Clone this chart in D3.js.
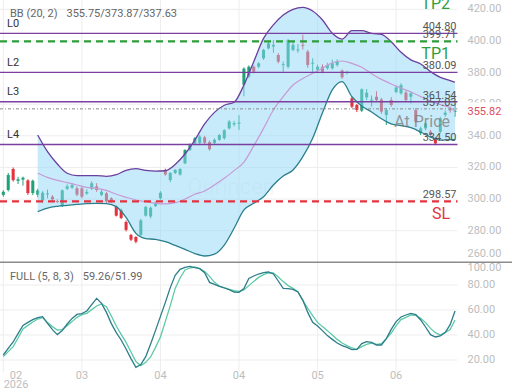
<!DOCTYPE html>
<html>
<head>
<meta charset="utf-8">
<script src="https://cdn.jsdelivr.net/npm/d3@7"></script>
<style>
  body { margin: 0; background: #fff; }
  svg { display: block; font-family: Roboto, "Noto Sans", sans-serif; }
</style>
</head>
<body>
<div id="chart"></div>
<script>
// candles (one per session)
const opens = [302.6,305.7,319.0,311.5,312.3,311.8,303.8,302.8,299.0,303.0,
  301.5,298.8,295.5,306.5,307.2,306.8,306.8,303.5,306.4,308.0,
  302.6,303.6,300.4,295.2,293.0,285.5,277.3,276.0,277.3,289.5,
  289.0,295.5,300.5,318.4,312.0,316.5,315.5,322.6,331.0,335.2,
  335.5,339.0,336.0,335.5,337.5,338.5,344.7,347.2,347.6,372.3,
  377.5,383.7,383.7,389.0,395.3,396.5,391.1,384.7,383.7,394.3,
  394.0,397.5,393.2,385.6,381.8,383.7,382.7,382.7,384.8,381.2,
  379.8,363.7,359.5,355.9,364.3,362.3,364.7,363.0,353.2,362.6,
  367.7,366.9,367.3,364.7,356.3,341.6,344.7,342.6,338.4,342.6,
  353.2,356.8,355.5];
const closes = [304.6,315.2,312.0,312.5,313.5,303.8,311.6,305.5,304.0,303.6,
  299.8,298.3,305.5,308.0,308.8,302.8,301.5,304.5,310.0,305.8,
  304.6,298.5,298.3,289.5,288.0,280.5,274.3,273.0,286.5,295.0,
  294.5,297.7,304.0,315.5,316.5,318.4,319.0,331.0,334.0,338.4,
  339.5,335.6,331.5,337.5,340.5,343.5,349.0,348.0,348.3,382.5,
  383.7,380.5,385.8,394.3,398.5,397.5,386.9,385.3,400.5,397.5,
  394.6,397.0,384.8,386.2,383.7,380.5,384.8,385.8,386.9,377.0,
  380.4,358.4,356.3,369.4,367.3,362.9,362.6,355.3,356.3,359.5,
  370.6,372.1,362.6,366.9,348.9,344.7,347.9,340.5,335.2,351.0,
  354.6,356.0,355.82];
const highs = [305.5,316.5,320.0,314.0,314.2,312.5,312.3,306.5,305.0,306.0,
  302.5,299.8,306.0,309.3,310.2,308.0,308.0,306.2,311.2,310.0,
  305.8,304.6,301.2,296.0,294.0,286.5,278.0,276.5,287.5,295.8,
  295.2,298.4,305.0,319.2,317.0,319.0,319.5,331.5,335.2,339.2,
  340.5,340.0,337.0,338.4,341.2,344.2,350.0,349.5,353.0,383.3,
  384.5,384.5,386.5,395.0,400.2,400.5,392.2,387.0,401.2,399.6,
  398.0,404.0,394.3,389.0,385.0,385.2,386.2,388.2,388.4,382.0,
  381.2,364.6,360.2,370.0,369.6,365.5,368.2,364.0,357.5,364.5,
  371.8,373.3,368.5,368.0,357.5,345.8,349.0,343.7,339.4,352.0,
  356.0,358.5,360.0];
const lows = [301.5,304.8,311.0,309.5,308.5,302.6,302.5,301.2,297.5,300.5,
  298.5,297.5,295.0,305.7,306.5,301.8,300.5,302.6,305.7,304.6,
  301.8,297.3,297.5,289.0,287.3,279.5,273.5,272.0,276.2,288.9,
  287.8,295.0,299.6,314.8,310.6,315.8,314.8,322.0,330.4,334.6,
  334.6,334.8,330.6,334.6,336.8,337.5,344.0,346.0,343.7,365.0,
  376.5,379.5,382.8,388.0,394.6,392.5,385.8,380.5,382.6,393.5,
  392.5,394.6,383.0,380.0,380.5,379.5,381.8,381.8,383.7,376.0,
  378.8,357.5,355.0,355.0,362.5,358.5,361.5,354.0,346.8,358.4,
  366.9,366.0,361.5,360.5,348.0,340.5,343.5,339.5,334.0,341.5,
  352.0,354.5,352.0];

// Bollinger bands (20, 2), read at every second session
const bbIdx = [7,9,11,13,15,17,19,21,23,25,27,29,31,33,35,37,39,41,43,45,47,49,
  51,53,55,57,59,61,63,65,67,69,71,73,75,77,79,81,83,85,87,89,91,92];
const bbUpper = [340.5,330.0,322.2,316.3,314.8,314.8,314.8,314.4,315.4,318.2,319.2,318.2,
  317.7,317.9,321.9,328.5,337.3,347.5,354.8,359.3,361.2,372.1,386.9,401.6,410.1,416.4,
  420.0,421.2,418.9,413.2,404.8,401.2,406.5,406.5,404.8,404.2,399.5,392.8,388.0,385.4,
  380.6,377.0,374.9,373.87];
const bbMid = [316.3,313.7,311.8,310.4,308.9,307.4,306.8,305.5,303.0,301.1,299.4,298.3,
  297.3,296.9,297.7,300.0,303.0,305.1,308.9,313.1,318.0,323.4,333.6,344.7,356.3,364.7,
  372.1,376.3,379.5,382.7,386.2,387.3,385.8,383.3,379.3,375.7,372.8,370.2,367.7,364.8,
  362.0,359.7,357.8,355.75];
const bbLower = [292.0,294.3,295.4,296.0,296.6,297.1,297.3,297.1,295.2,288.4,278.3,275.0,
  274.5,273.0,270.7,268.2,265.5,264.0,265.2,270.9,281.5,293.1,297.3,301.5,308.9,314.6,
  318.4,326.8,338.4,354.6,369.0,374.2,364.7,358.9,355.1,350.8,347.5,346.4,345.1,342.4,
  339.2,337.3,337.6,337.63];

// Full stochastic (5, 8, 3)
const stochK = [24.0,29.3,34.4,41.1,47.7,50.1,52.3,53.9,54.7,49.3,
  44.3,40.3,43.5,48.8,53.3,56.5,57.1,59.2,64.3,69.3,
  65.3,58.1,49.1,41.9,36.0,28.8,21.1,14.1,16.3,22.7,
  32.8,43.7,54.9,66.1,77.9,87.7,92.5,94.1,94.9,93.9,
  93.1,89.9,82.1,80.5,78.9,77.6,76.3,74.4,74.1,77.1,
  85.3,87.2,88.8,89.9,90.4,88.8,83.2,77.3,77.1,76.5,
  74.4,67.7,58.1,50.1,47.2,43.5,39.5,36.5,33.6,31.5,
  30.1,28.3,28.5,33.1,34.7,34.1,32.0,32.0,37.1,44.5,
  50.7,54.4,56.0,57.3,56.3,52.0,46.4,40.3,38.4,39.2,
  41.9,48.3,59.26];
const stochD = [22.7,26.7,30.7,37.6,44.8,47.7,50.4,52.8,53.9,49.9,
  46.7,44.0,44.3,47.5,50.7,54.1,56.3,57.3,60.3,63.2,
  64.8,62.7,55.2,47.2,40.5,34.1,26.4,18.7,15.5,18.1,
  22.4,30.1,38.4,50.9,63.5,77.3,85.6,92.0,93.6,94.4,
  93.1,90.7,86.9,82.1,79.2,77.9,76.5,75.5,74.9,76.0,
  79.5,82.9,86.1,88.3,89.6,89.6,86.4,82.7,79.5,77.3,
  74.4,67.7,61.3,55.5,50.1,46.7,43.5,40.0,36.5,33.6,
  31.5,29.6,28.5,30.7,32.5,33.6,32.5,33.1,37.1,41.6,
  47.5,52.3,54.1,56.0,55.7,53.3,49.9,45.3,41.9,40.0,
  42.1,44.3,51.99];

// horizontal levels
const levelNames = ["TP2", "L0", "TP1", "L2", "L3", "At Price", "L4", "SL"];
const levelValues = [431.3, 404.80, 399.71, 380.09, 361.54, 357.03, 334.50, 298.57];

// axes
const priceTicks = [260, 280, 300, 320, 340, 360, 380, 400, 420];
const stochTicks = [20, 40, 60, 80, 100];
const timeTickIdx = [0, 16, 32, 48, 64, 80];
const timeTickLabels = ["02", "03", "04", "04", "05", "06"];
const lastPrice = 355.82;

const W = 520, H = 390;
const plotR = 457.5;
const mainBottom = 262.3;

const upColor = "#1fa27a", downColor = "#e5323f";
const purple = "#7b3fa0";

const svg = d3.select("#chart").append("svg")
    .attr("width", W)
    .attr("height", H);

const defs = svg.append("defs");
defs.append("clipPath").attr("id", "clipMain")
    .append("rect").attr("x", 0).attr("y", 0).attr("width", plotR).attr("height", mainBottom);
defs.append("clipPath").attr("id", "clipStoch")
    .append("rect").attr("x", 0).attr("y", mainBottom + 1).attr("width", plotR).attr("height", 110);

const x = d3.scaleBand()
    .domain(d3.range(closes.length))
    .range([0.875, plotR]);
const cx = i => x(i) + x.bandwidth() / 2;
const bodyW = x.bandwidth() * 0.62;

const y = d3.scaleLinear().domain([260, 420]).range([mainBottom, 9.3]);
const ys = d3.scaleLinear().domain([0, 100]).range([385, 260]);

// grid
const grid = svg.append("g");
grid.selectAll("line.hg").data(priceTicks).join("line")
    .attr("x1", 0).attr("x2", plotR)
    .attr("y1", d => y(d)).attr("y2", d => y(d))
    .attr("stroke", "#ededed");
grid.selectAll("line.sg").data(stochTicks.slice(0, 4)).join("line")
    .attr("x1", 0).attr("x2", plotR)
    .attr("y1", d => ys(d)).attr("y2", d => ys(d))
    .attr("stroke", "#ededed");
grid.selectAll("line.vg").data(timeTickIdx).join("line")
    .attr("x1", d => cx(d)).attr("x2", d => cx(d))
    .attr("y1", 0).attr("y2", 372)
    .attr("stroke", "#ededed");

// watermark
svg.append("text")
    .attr("x", 231).attr("y", 194)
    .attr("text-anchor", "middle")
    .attr("font-size", 22)
    .attr("fill", "#000").attr("fill-opacity", 0.05)
    .text("Qurincen");

const gMain = svg.append("g").attr("clip-path", "url(#clipMain)");

// candles
const candles = d3.range(closes.length).map(i => ({
    i: i, o: opens[i], h: highs[i], l: lows[i], c: closes[i]
}));
const col = d => d.c >= d.o ? upColor : downColor;

gMain.append("g").selectAll("line").data(candles).join("line")
    .attr("x1", d => cx(d.i)).attr("x2", d => cx(d.i))
    .attr("y1", d => y(d.h)).attr("y2", d => y(d.l))
    .attr("stroke", col).attr("stroke-width", 1);
gMain.append("g").selectAll("rect").data(candles).join("rect")
    .attr("x", d => cx(d.i) - bodyW / 2)
    .attr("width", bodyW)
    .attr("y", d => y(Math.max(d.o, d.c)))
    .attr("height", d => Math.max(1, Math.abs(y(d.o) - y(d.c))))
    .attr("fill", col);

// bollinger bands, fill drawn over candles
const bb = bbIdx.map((i, k) => ({i: i, u: bbUpper[k], m: bbMid[k], l: bbLower[k]}));
gMain.append("path").datum(bb)
    .attr("d", d3.area().x(d => cx(d.i)).y0(d => y(d.l)).y1(d => y(d.u)).curve(d3.curveMonotoneX))
    .attr("fill", "#8fd8f8").attr("fill-opacity", 0.5);

const bbLine = key => d3.line().x(d => cx(d.i)).y(d => y(d[key])).curve(d3.curveMonotoneX);
gMain.append("path").datum(bb).attr("d", bbLine("m"))
    .attr("fill", "none").attr("stroke", "#c79ad6").attr("stroke-width", 1.2);
gMain.append("path").datum(bb).attr("d", bbLine("u"))
    .attr("fill", "none").attr("stroke", "#6a3f9e").attr("stroke-width", 1.3);
gMain.append("path").datum(bb).attr("d", bbLine("l"))
    .attr("fill", "none").attr("stroke", "#2b7f8c").attr("stroke-width", 1.3);

// levels
const levels = levelNames.map((n, k) => ({name: n, v: levelValues[k]}));
const lvlStroke = d => d.name.startsWith("TP") ? "#2e9e3c" : d.name === "SL" ? "#e5323f" :
    d.name === "At Price" ? "#8a8a8a" : purple;
const lvlDash = d => d.name.startsWith("TP") || d.name === "SL" ? "7,5" :
    d.name === "At Price" ? "3,2,1,2" : null;
const lvlWidth = d => d.name.startsWith("TP") || d.name === "SL" ? 2.2 :
    d.name === "At Price" ? 1 : 1.3;

svg.append("g").selectAll("line").data(levels).join("line")
    .attr("x1", 0).attr("x2", plotR)
    .attr("y1", d => y(d.v)).attr("y2", d => y(d.v))
    .attr("stroke", lvlStroke)
    .attr("stroke-width", lvlWidth)
    .attr("stroke-dasharray", lvlDash);

// value labels right aligned above each line
svg.append("g").selectAll("text").data(levels.filter(d => d.name !== "TP2")).join("text")
    .attr("x", plotR - 1).attr("y", d => y(d.v) - 3)
    .attr("text-anchor", "end")
    .attr("font-size", 11).attr("fill", "#555")
    .text(d => d.v.toFixed(2));

// L names on the left
svg.append("g").selectAll("text").data(levels.filter(d => d.name.startsWith("L"))).join("text")
    .attr("x", 7).attr("y", d => y(d.v) - 6.5)
    .attr("font-size", 11).attr("fill", "#333")
    .text(d => d.name);

// big names on the right, below line
svg.append("g").selectAll("text").data(levels.filter(d => !d.name.startsWith("L"))).join("text")
    .attr("x", 450).attr("y", d => y(d.v) + 18)
    .attr("text-anchor", "end")
    .attr("font-size", 16)
    .attr("fill", d => d.name.startsWith("TP") ? "#2e9e3c" : d.name === "SL" ? "#e5323f" : "#808080")
    .attr("fill-opacity", d => d.name === "At Price" ? 0.8 : 1)
    .text(d => d.name);

// price axis
const yAxis = svg.append("g")
    .attr("transform", `translate(${plotR + 5},0)`)
    .call(d3.axisRight(y).tickValues(priceTicks).tickSize(0).tickPadding(5).tickFormat(d3.format(".2f")));
yAxis.select(".domain").remove();
yAxis.selectAll("text")
    .attr("font-family", "Roboto, sans-serif").attr("font-size", 11).attr("fill", "#bdbdbd")
    .attr("y", d => d === 260 ? -9 : -1);

// last price tag, covering the lower half of the 360 label
svg.append("rect").attr("x", plotR + 4).attr("y", y(lastPrice) - 8.5)
    .attr("width", 50).attr("height", 15).attr("fill", "#fff");
svg.append("text")
    .attr("x", plotR + 10).attr("y", y(lastPrice))
    .attr("dy", "0.35em")
    .attr("font-size", 11).attr("fill", "#e04a5a")
    .text(lastPrice.toFixed(2));

// pane separator
svg.append("line")
    .attr("x1", 0).attr("x2", 512)
    .attr("y1", mainBottom).attr("y2", mainBottom)
    .attr("stroke", "#8c8c8c").attr("stroke-width", 1.5);

// stochastic pane
const gStoch = svg.append("g").attr("clip-path", "url(#clipStoch)");
const sLine = d3.line().x((d, i) => cx(i)).y(d => ys(d));
gStoch.append("path").datum(stochD).attr("d", sLine)
    .attr("fill", "none").attr("stroke", "#5ccaa6").attr("stroke-width", 1.3);
gStoch.append("path").datum(stochK).attr("d", sLine)
    .attr("fill", "none").attr("stroke", "#2d7d8a").attr("stroke-width", 1.3);

const sAxis = svg.append("g")
    .attr("transform", `translate(${plotR + 5},0)`)
    .call(d3.axisRight(ys).tickValues(stochTicks).tickSize(0).tickPadding(5).tickFormat(d3.format(".2f")));
sAxis.select(".domain").remove();
sAxis.selectAll("text")
    .attr("font-family", "Roboto, sans-serif").attr("font-size", 11).attr("fill", "#bdbdbd")
    .attr("y", d => d === 100 ? 6.5 : -1.5);

// time axis
const xAxis = svg.append("g")
    .attr("transform", "translate(0,371)")
    .call(d3.axisBottom(x).tickValues(timeTickIdx).tickSize(0).tickPadding(0)
        .tickFormat((d, k) => timeTickLabels[k]));
xAxis.select(".domain").remove();
xAxis.selectAll("text")
    .attr("font-family", "Roboto, sans-serif").attr("font-size", 11).attr("fill", "#bdbdbd");
xAxis.selectAll(".tick").filter(d => d === 0)
    .attr("transform", "translate(16,0)")
    .append("text")
    .attr("y", 9).attr("dy", "0.71em")
    .attr("text-anchor", "middle")
    .attr("font-family", "Roboto, sans-serif").attr("font-size", 11).attr("fill", "#bdbdbd")
    .text("2026");

// legends
const leg1 = svg.append("text").attr("x", 10).attr("y", 17).attr("font-size", 11).attr("fill", "#666");
leg1.append("tspan").text("BB (20, 2)");
leg1.append("tspan").attr("dx", 9).text(bbMid[bbMid.length - 1].toFixed(2) + "/" +
    bbUpper[bbUpper.length - 1].toFixed(2) + "/" + bbLower[bbLower.length - 1].toFixed(2));

const leg2 = svg.append("text").attr("x", 10).attr("y", 280).attr("font-size", 11).attr("fill", "#666");
leg2.append("tspan").text("FULL (5, 8, 3)");
leg2.append("tspan").attr("dx", 9).text(stochK[stochK.length - 1].toFixed(2) + "/" +
    stochD[stochD.length - 1].toFixed(2));
</script>
</body>
</html>
